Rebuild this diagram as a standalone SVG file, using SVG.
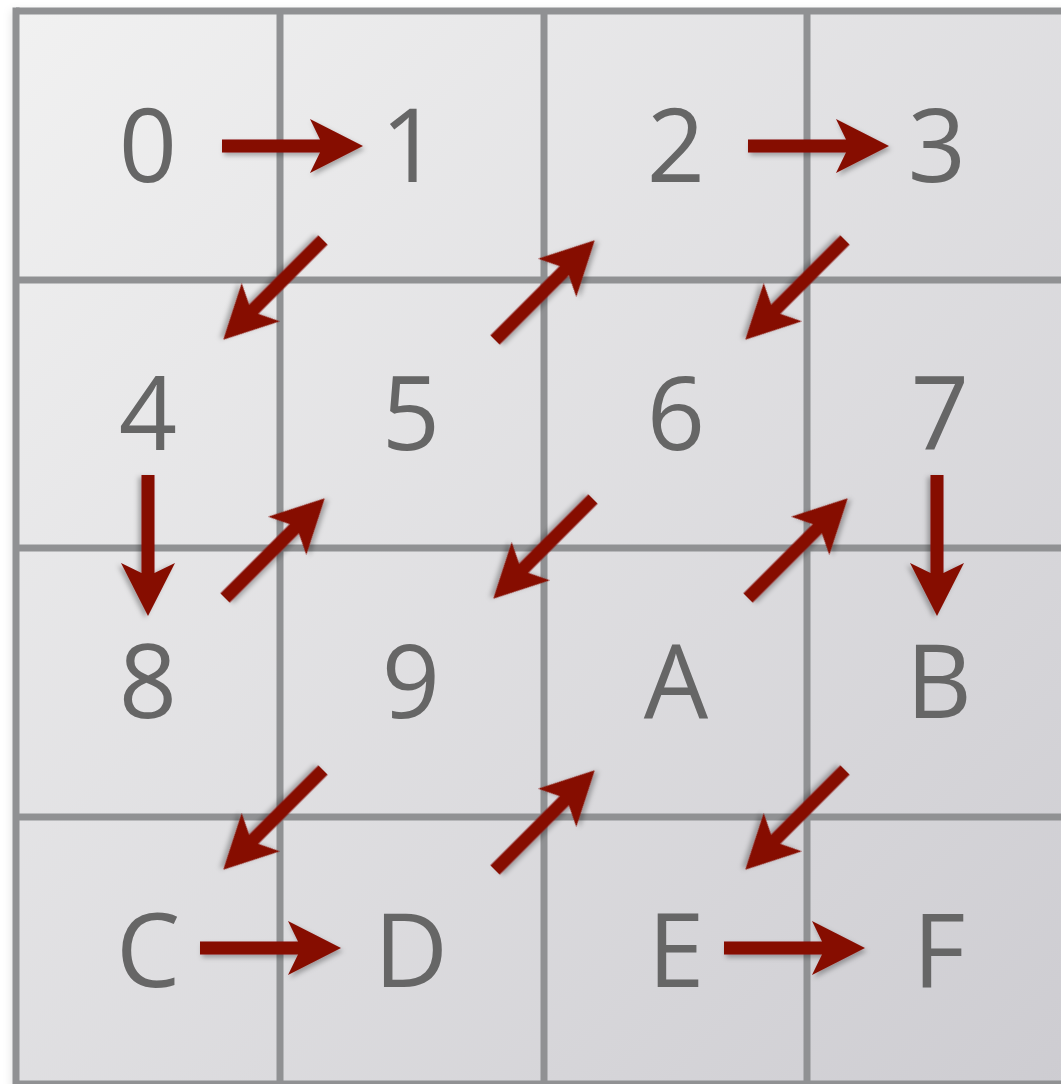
<svg xmlns="http://www.w3.org/2000/svg" width="1061" height="1084" viewBox="0 0 1061 1084">
<defs>
<linearGradient id="bg" x1="0" y1="0" x2="1" y2="1">
<stop offset="0" stop-color="#f1f1f1"/>
<stop offset="1" stop-color="#cdccd1"/>
</linearGradient>
<filter id="sh" x="-20%" y="-20%" width="140%" height="140%">
<feDropShadow dx="2" dy="3" stdDeviation="2.5" flood-color="#000" flood-opacity="0.3"/>
</filter>
<filter id="bsh" x="-5%" y="-5%" width="110%" height="110%">
<feDropShadow dx="-4" dy="0" stdDeviation="5" flood-color="#000" flood-opacity="0.12"/>
</filter>
<path id="arr" d="M0,-6.5 L98,-6.5 L88,-27 L141,0 L88,27 L98,6.5 L0,6.5 Z"/>
</defs>
<style>
.lbl{font-family:"Open Sans","Noto Sans","Liberation Sans",sans-serif;font-size:102px;fill:#666666;text-anchor:middle;}
.grid line{stroke:#909193;stroke-width:7;}
.conn use{fill:#860d02;filter:url(#sh);}
</style>
<rect width="1061" height="1084" fill="#ffffff"/>
<rect x="16" y="11" width="1060" height="1080" fill="url(#bg)" filter="url(#bsh)"/>
<g class="grid">
<line x1="16" y1="11" x2="1061" y2="11"/>
<line x1="16" y1="280" x2="1061" y2="280"/>
<line x1="16" y1="548" x2="1061" y2="548"/>
<line x1="16" y1="817" x2="1061" y2="817"/>
<line x1="16" y1="1084" x2="1061" y2="1084"/>
<line x1="16" y1="7.5" x2="16" y2="1084"/>
<line x1="280" y1="11" x2="280" y2="1084"/>
<line x1="544" y1="11" x2="544" y2="1084"/>
<line x1="807" y1="11" x2="807" y2="1084"/>
</g>
<g id="n0"><text class="lbl" x="148" y="182">0</text></g>
<g id="n1"><text class="lbl" x="410" y="182">1</text></g>
<g id="n2"><text class="lbl" x="676" y="182">2</text></g>
<g id="n3"><text class="lbl" x="937" y="182">3</text></g>
<g id="n4"><text class="lbl" x="148" y="450">4</text></g>
<g id="n5"><text class="lbl" x="411" y="450">5</text></g>
<g id="n6"><text class="lbl" x="676" y="450">6</text></g>
<g id="n7"><text class="lbl" x="940" y="450">7</text></g>
<g id="n8"><text class="lbl" x="148" y="718">8</text></g>
<g id="n9"><text class="lbl" x="411" y="718">9</text></g>
<g id="nA"><text class="lbl" x="676" y="718">A</text></g>
<g id="nB"><text class="lbl" x="939" y="718">B</text></g>
<g id="nC"><text class="lbl" x="148" y="987">C</text></g>
<g id="nD"><text class="lbl" x="411" y="987">D</text></g>
<g id="nE"><text class="lbl" x="676" y="987">E</text></g>
<g id="nF"><text class="lbl" x="939" y="987">F</text></g>
<g class="conn">
<use href="#arr" transform="translate(222,146)"/>
<use href="#arr" transform="translate(748,146)"/>
<use href="#arr" transform="translate(200,948)"/>
<use href="#arr" transform="translate(724,948)"/>
<use href="#arr" transform="translate(148,475) rotate(90)"/>
<use href="#arr" transform="translate(937,475) rotate(90)"/>
<use href="#arr" transform="translate(323,240) rotate(135)"/>
<use href="#arr" transform="translate(845,240) rotate(135)"/>
<use href="#arr" transform="translate(593,499) rotate(135)"/>
<use href="#arr" transform="translate(323,770) rotate(135)"/>
<use href="#arr" transform="translate(845,770) rotate(135)"/>
<use href="#arr" transform="translate(495,340) rotate(-45)"/>
<use href="#arr" transform="translate(225,598) rotate(-45)"/>
<use href="#arr" transform="translate(748,598) rotate(-45)"/>
<use href="#arr" transform="translate(495,870) rotate(-45)"/>
</g>
</svg>
